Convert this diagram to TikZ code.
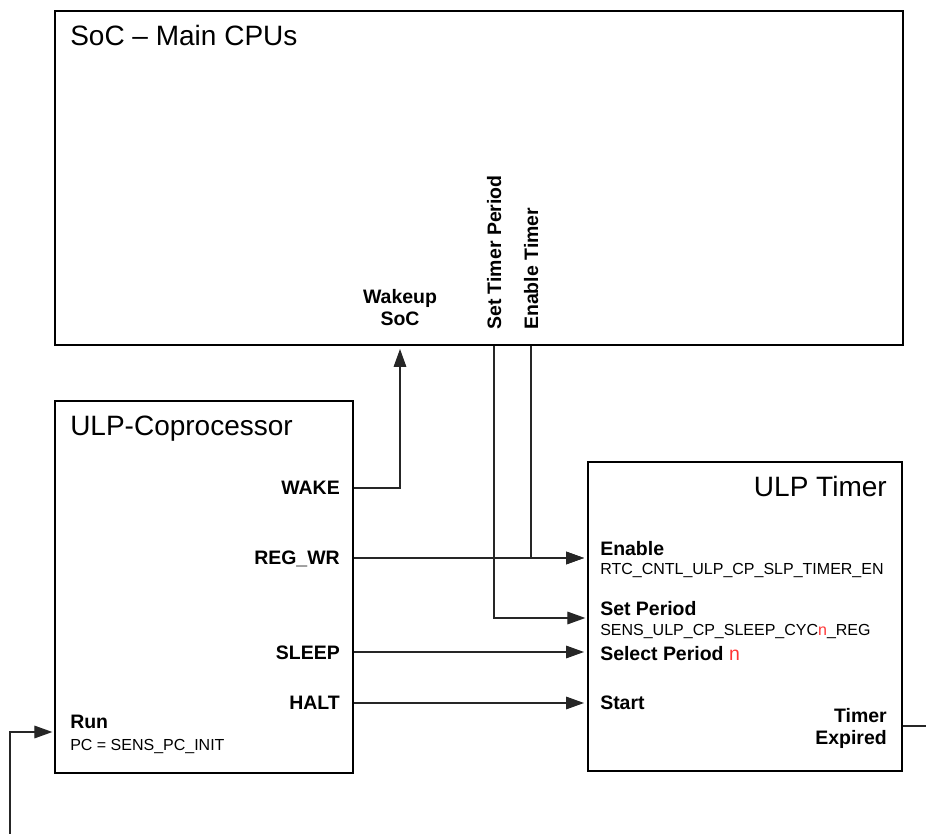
\documentclass[tikz,border=0pt]{standalone}
\usepackage{fontspec}
\setmainfont{Liberation Sans}
\usetikzlibrary{arrows.meta,fit}
\definecolor{regred}{HTML}{FF3333}

\begin{document}
\begin{tikzpicture}[x=.75pt,y=-.75pt,
 block/.style={draw=black,line width=2pt,inner sep=0pt},
 title/.style={font=\fontsize{21}{24}\selectfont,inner sep=0pt},
 sigfont/.style={font=\bfseries\fontsize{14.6}{16.5}\selectfont,inner sep=0pt},
 sig/.style={sigfont,text height=10.5pt,text depth=0pt},
 reg/.style={font=\fontsize{12}{14}\selectfont,inner sep=0pt},
 wire/.style={draw=black!85,line width=.9pt},
 flow/.style={wire,-{Triangle[length=13.5pt,width=9.5pt]},shorten >=2pt}]
\path[use as bounding box] (0,0) rectangle (926,834);
% The three blocks.
\node[block,fit={(55,11) (903,345)}] (soc) {};
\node[block,fit={(55,401) (353,773)}] (ulp) {};
\node[block,fit={(588,462) (902,771)}] (timer) {};
\node[title,anchor=base west] (soctitle) at (70,46) {SoC -- Main CPUs};
\node[title,anchor=base west] (ulptitle) at (70,436) {ULP-Coprocessor};
\node[title,anchor=base east] (tmrtitle) at (887,497) {ULP Timer};
% SoC side signals.
\node[sigfont,align=center,anchor=south] (wakeup) at (400,326) {Wakeup\\SoC};
\node[sigfont,rotate=90,anchor=base west] (settmr) at (501,330) {Set Timer Period};
\node[sigfont,rotate=90,anchor=base west] (entmr) at (538,330) {Enable Timer};
% Coprocessor outputs.
\foreach \name/\y/\txt in {wake/495/WAKE,regwr/565/REG\_WR,sleep/659/SLEEP,halt/710/HALT}
 \node[sig,anchor=base east] (\name) at (340,\y) {\txt};
\node[sig,anchor=base west] (run) at (70,729) {Run};
\node[reg,anchor=base west] (pcinit) at (70,750) {PC = SENS\_PC\_INIT};
% Timer inputs.
\node[sig,anchor=base west] (enable) at (600,556) {Enable};
\node[reg,anchor=base west] (enreg) at (600,575) {RTC\_CNTL\_ULP\_CP\_SLP\_TIMER\_EN};
\node[sig,anchor=base west] (setper) at (600,616) {Set Period};
\node[reg,anchor=base west] (perreg) at (600,636) {SENS\_ULP\_CP\_SLEEP\_CYC\textcolor{regred}{n}\_REG};
\node[sig,anchor=base west] (selper) at (600,660) {Select Period \textcolor{regred}{\mdseries n}};
\node[sig,anchor=base west] (start) at (600,710) {Start};
\node[sigfont,align=right,anchor=south east] (expired) at (887,749) {Timer\\Expired};
\coordinate (periodin) at (588,618);
\coordinate (expout) at (926,726);
\coordinate (runsrc) at (10,834);
\coordinate (runin) at (55,732);
% Connections.
\draw[flow] (wake -| ulp.east) -| (wakeup.south |- soc.south);
\draw[flow] (regwr -| ulp.east) -- (regwr -| timer.west);
\draw[flow] (entmr |- soc.south) |- (regwr -| timer.west);
\draw[flow] (settmr |- soc.south) |- (periodin);
\draw[flow] (sleep -| ulp.east) -- (sleep -| timer.west);
\draw[flow] (halt -| ulp.east) -- (halt -| timer.west);
\draw[wire] (timer.east |- expout) -- (expout);
\draw[flow] (runsrc) |- (runin);
\end{tikzpicture}
\end{document}
